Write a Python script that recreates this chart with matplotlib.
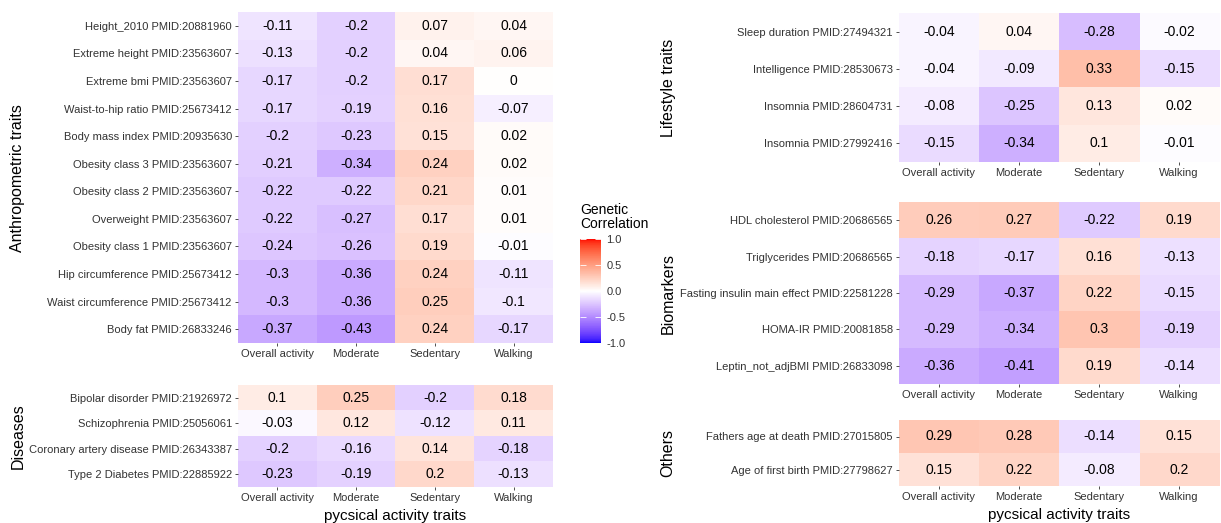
import numpy as np
import matplotlib
matplotlib.use("Agg")
import matplotlib.pyplot as plt
from matplotlib.colors import ListedColormap

plt.rcParams['font.family'] = ['Liberation Sans', 'DejaVu Sans']

# --- Data ---
activity = ["Overall activity", "Moderate", "Sedentary", "Walking"]

anthro_labels = [
    "Height_2010 PMID:20881960", "Extreme height PMID:23563607",
    "Extreme bmi PMID:23563607", "Waist-to-hip ratio PMID:25673412",
    "Body mass index PMID:20935630", "Obesity class 3 PMID:23563607",
    "Obesity class 2 PMID:23563607", "Overweight PMID:23563607",
    "Obesity class 1 PMID:23563607", "Hip circumference PMID:25673412",
    "Waist circumference PMID:25673412", "Body fat PMID:26833246",
]
anthro_values = [
    [-0.11, -0.2, 0.07, 0.04],
    [-0.13, -0.2, 0.04, 0.06],
    [-0.17, -0.2, 0.17, 0],
    [-0.17, -0.19, 0.16, -0.07],
    [-0.2, -0.23, 0.15, 0.02],
    [-0.21, -0.34, 0.24, 0.02],
    [-0.22, -0.22, 0.21, 0.01],
    [-0.22, -0.27, 0.17, 0.01],
    [-0.24, -0.26, 0.19, -0.01],
    [-0.3, -0.36, 0.24, -0.11],
    [-0.3, -0.36, 0.25, -0.1],
    [-0.37, -0.43, 0.24, -0.17],
]

disease_labels = [
    "Bipolar disorder PMID:21926972", "Schizophrenia PMID:25056061",
    "Coronary artery disease PMID:26343387", "Type 2 Diabetes PMID:22885922",
]
disease_values = [
    [0.1, 0.25, -0.2, 0.18],
    [-0.03, 0.12, -0.12, 0.11],
    [-0.2, -0.16, 0.14, -0.18],
    [-0.23, -0.19, 0.2, -0.13],
]

lifestyle_labels = [
    "Sleep duration PMID:27494321", "Intelligence PMID:28530673",
    "Insomnia PMID:28604731", "Insomnia PMID:27992416",
]
lifestyle_values = [
    [-0.04, 0.04, -0.28, -0.02],
    [-0.04, -0.09, 0.33, -0.15],
    [-0.08, -0.25, 0.13, 0.02],
    [-0.15, -0.34, 0.1, -0.01],
]

bio_labels = [
    "HDL cholesterol PMID:20686565", "Triglycerides PMID:20686565",
    "Fasting insulin main effect PMID:22581228", "HOMA-IR PMID:20081858",
    "Leptin_not_adjBMI PMID:26833098",
]
bio_values = [
    [0.26, 0.27, -0.22, 0.19],
    [-0.18, -0.17, 0.16, -0.13],
    [-0.29, -0.37, 0.22, -0.15],
    [-0.29, -0.34, 0.3, -0.19],
    [-0.36, -0.41, 0.19, -0.14],
]

other_labels = [
    "Fathers age at death PMID:27015805", "Age of first birth PMID:27798627",
]
other_values = [
    [0.29, 0.28, -0.14, 0.15],
    [0.15, 0.22, -0.08, 0.2],
]


# --- blue-white-red gradient interpolated in Lab space (like ggplot gradient2) ---
def srgb_to_lab(rgb):
    rgb = np.asarray(rgb, float)
    lin = np.where(rgb <= 0.04045, rgb / 12.92, ((rgb + 0.055) / 1.055) ** 2.4)
    M = np.array([[0.4124, 0.3576, 0.1805],
                  [0.2126, 0.7152, 0.0722],
                  [0.0193, 0.1192, 0.9505]])
    xyz = M @ lin / np.array([0.95047, 1.0, 1.08883])
    f = np.where(xyz > 0.008856, np.cbrt(xyz), 7.787 * xyz + 16 / 116)
    return np.array([116 * f[1] - 16, 500 * (f[0] - f[1]), 200 * (f[1] - f[2])])


def lab_to_srgb(lab):
    L, a, b = lab
    fy = (L + 16) / 116
    fx = fy + a / 500
    fz = fy - b / 200
    f = np.array([fx, fy, fz])
    xyz = np.where(f ** 3 > 0.008856, f ** 3, (f - 16 / 116) / 7.787)
    xyz = xyz * np.array([0.95047, 1.0, 1.08883])
    Minv = np.array([[3.2406, -1.5372, -0.4986],
                     [-0.9689, 1.8758, 0.0415],
                     [0.0557, -0.2040, 1.0570]])
    lin = Minv @ xyz
    rgb = np.where(lin <= 0.0031308, 12.92 * lin, 1.055 * np.clip(lin, 0, None) ** (1 / 2.4) - 0.055)
    return np.clip(rgb, 0, 1)


lab_blue = srgb_to_lab([0, 0, 1])
lab_white = srgb_to_lab([1, 1, 1])
lab_red = srgb_to_lab([1, 0, 0])
cols = []
for t in np.linspace(-1, 1, 256):
    if t < 0:
        lab = lab_white + (lab_blue - lab_white) * (-t)
    else:
        lab = lab_white + (lab_red - lab_white) * t
    cols.append(lab_to_srgb(lab))
cmap = ListedColormap(cols)

# --- Figure ---
W, H = 1221, 523
fig = plt.figure(figsize=(W / 100, H / 100), dpi=100)


def px_axes(x0, y0, x1, y1):
    return fig.add_axes([x0 / W, 1 - y1 / H, (x1 - x0) / W, (y1 - y0) / H])


def heat(box, labels, values):
    ax = px_axes(*box)
    vals = np.array(values, float)
    im = ax.imshow(vals, cmap=cmap, vmin=-1, vmax=1, aspect='auto',
                   interpolation='nearest')
    for i in range(vals.shape[0]):
        for j in range(vals.shape[1]):
            ax.text(j, i, f"{vals[i, j]:g}", ha='center', va='center',
                    fontsize=10, color='black')
    ax.set_xticks(range(len(activity)))
    ax.set_xticklabels(activity, fontsize=8, color='#333333')
    ax.set_yticks(range(len(labels)))
    ax.set_yticklabels(labels, fontsize=8, color='#333333')
    ax.tick_params(length=2.5, width=0.6, color='#333333', pad=2)
    for s in ax.spines.values():
        s.set_visible(False)
    return im


im = heat((238, 12, 553, 343), anthro_labels, anthro_values)
heat((238, 385, 553, 487), disease_labels, disease_values)
heat((899, 13, 1219, 162), lifestyle_labels, lifestyle_values)
heat((899, 202, 1219, 384), bio_labels, bio_values)
heat((899, 420, 1219, 486), other_labels, other_values)

# group titles
grp_kw = dict(rotation=90, ha='center', va='center', fontsize=11.5)
fig.text(18 / W, 1 - 178 / H, "Anthropometric traits", **grp_kw)
fig.text(18 / W, 1 - 436 / H, "Diseases", **grp_kw)
fig.text(668 / W, 1 - 88 / H, "Lifestyle traits", **grp_kw)
fig.text(668 / W, 1 - 293 / H, "Biomarkers", **grp_kw)
fig.text(668 / W, 1 - 453 / H, "Others", **grp_kw)

# x titles
fig.text(395 / W, 1 - 516 / H, "pycsical activity traits", ha='center', va='center', fontsize=11)
fig.text(1059 / W, 1 - 515 / H, "pycsical activity traits", ha='center', va='center', fontsize=11)

# colorbar
cax = px_axes(580, 239, 601, 343)
cb = fig.colorbar(im, cax=cax, ticks=[-1, -0.5, 0, 0.5, 1])
cb.outline.set_visible(False)
cb.ax.set_yticklabels(["-1.0", "-0.5", "0.0", "0.5", "1.0"], fontsize=8, color='#333333')
cb.ax.yaxis.set_ticks_position('both')
cb.ax.tick_params(direction='in', length=4, width=0.6, color='white', pad=4,
                  labelleft=False, labelright=True)
fig.text(580 / W, 1 - 203 / H, "Genetic\nCorrelation", ha='left', va='top',
         fontsize=10, linespacing=1.0)

fig.savefig("out.png", dpi=100)
